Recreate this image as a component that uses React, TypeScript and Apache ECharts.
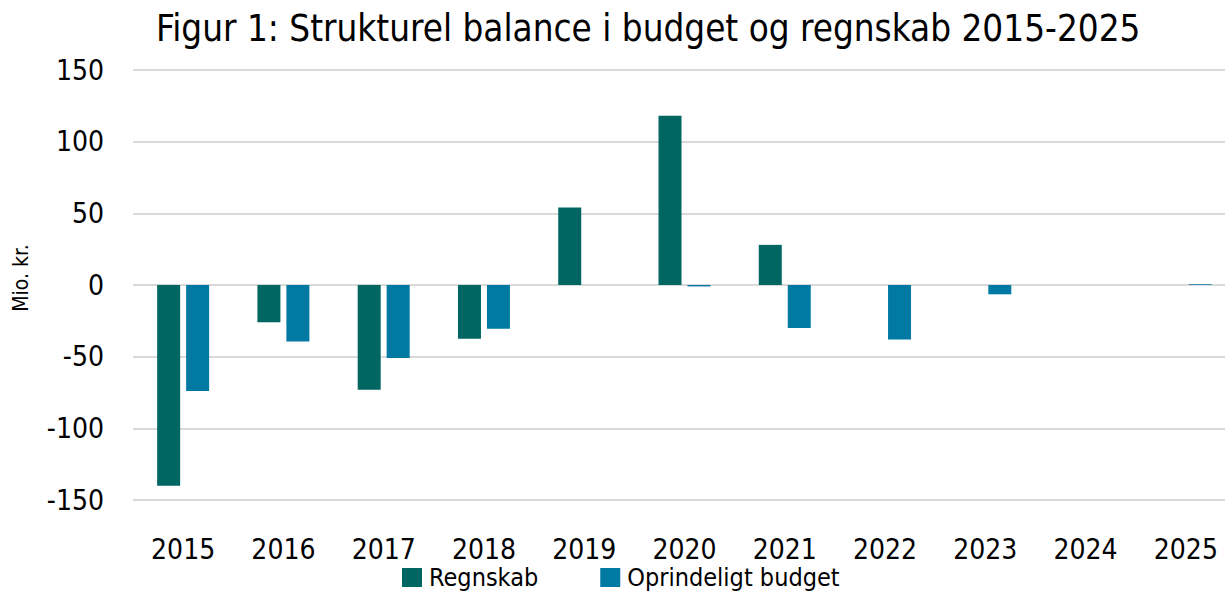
import React, { useEffect, useRef } from "react";
import * as echarts from "echarts";

const categories = ["2015", "2016", "2017", "2018", "2019", "2020", "2021", "2022", "2023", "2024", "2025"];
const regnskab = [-140, -26, -73, -37.5, 54, 118, 28, 0, 0, 0, 0];
const budget = [-74, -39.5, -51, -30.5, 0, -1, -30, -38, -6.5, 0, 0.5];
const yTicks = { min: -150, max: 150, interval: 50 };

const FONT = "DejaVu Sans Condensed";

export default function App() {
  const ref = useRef<HTMLDivElement>(null);
  useEffect(() => {
    if (!ref.current) return;
    const chart = echarts.init(ref.current, undefined, { renderer: "svg" });
    chart.setOption({
      animation: false,
      backgroundColor: "#ffffff",
      textStyle: { fontFamily: FONT },
      title: {
        text: "Figur 1: Strukturel balance i budget og regnskab 2015-2025",
        left: 151,
        top: 5,
        textStyle: { fontFamily: FONT, fontSize: 36.5, fontWeight: "normal", color: "#000000" },
      },
      legend: {
        left: 397,
        top: 560,
        itemWidth: 20,
        itemHeight: 19,
        itemGap: 62,
        icon: "rect",
        textStyle: { fontFamily: FONT, fontSize: 25, color: "#000000", padding: [0, 0, 0, 2] },
        data: ["Regnskab", "Oprindeligt budget"],
      },
      graphic: [
        {
          type: "text",
          x: 21,
          y: 278,
          rotation: Math.PI / 2,
          style: {
            text: "Mio. kr.",
            fontFamily: FONT,
            fontSize: 21,
            fill: "#000000",
            align: "center",
            verticalAlign: "middle",
          },
        },
      ],
      grid: { left: 133, top: 70, width: 1103, height: 430, containLabel: false, outerBoundsMode: "none" },
      xAxis: {
        type: "category",
        data: categories,
        axisLine: { show: false },
        axisTick: { show: false },
        axisLabel: { fontFamily: FONT, fontSize: 28, color: "#000000", margin: 35 },
      },
      yAxis: {
        type: "value",
        min: yTicks.min,
        max: yTicks.max,
        interval: yTicks.interval,
        axisLine: { show: false },
        axisTick: { show: false },
        axisLabel: { fontFamily: FONT, fontSize: 28, color: "#000000", margin: 29 },
        splitLine: { lineStyle: { color: "#D9D9D9", width: 2 } },
      },
      series: [
        {
          name: "Regnskab",
          type: "bar",
          data: regnskab,
          barWidth: 23,
          barGap: "26%",
          itemStyle: { color: "#006661" },
        },
        {
          name: "Oprindeligt budget",
          type: "bar",
          data: budget,
          barWidth: 23,
          itemStyle: { color: "#0079A3" },
        },
      ],
    });
    return () => chart.dispose();
  }, []);
  return (
    <div
      ref={ref}
      style={{ position: "fixed", left: 0, top: 0, width: 1225, height: 592 }}
    />
  );
}
